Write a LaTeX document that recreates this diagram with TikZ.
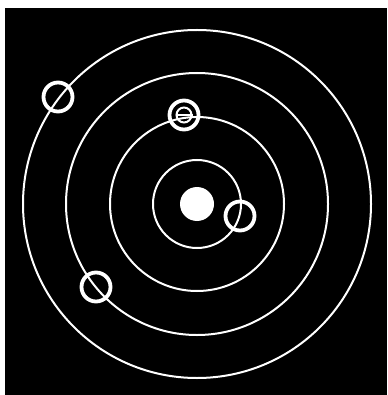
\documentclass[tikz,border=0pt]{standalone}
\begin{document}
\begin{tikzpicture}[x=1pt,y=-1pt,
  orbit/.style={draw=white,line width=2pt},
  planet/.style={circle,draw=white,line width=3.8pt,minimum size=29pt,inner sep=0pt},
  sun/.style={circle,fill=white,minimum size=34pt,inner sep=0pt}]
\useasboundingbox (0,0) rectangle (387,395);
\fill[white] (0,0) rectangle (387,395);
\fill[black] (5,8) rectangle (387,395);
\coordinate (c) at (197,204);
\foreach \r in {44,87,131,174} \draw[orbit] (c) circle (\r);
\node[sun] (sun) at (c) {};
\node[planet] (p1) at (240,216) {};
\node[planet] (p2) at (184,115) {};
\node[circle,draw=white,line width=2pt,minimum size=15pt,inner sep=0pt] (moon) at (p2) {};
\draw[white,line width=1.6pt] (moon.west) -- (moon.east);
\node[planet] (p3) at (96,287) {};
\node[planet] (p4) at (58,97) {};
\end{tikzpicture}
\end{document}
